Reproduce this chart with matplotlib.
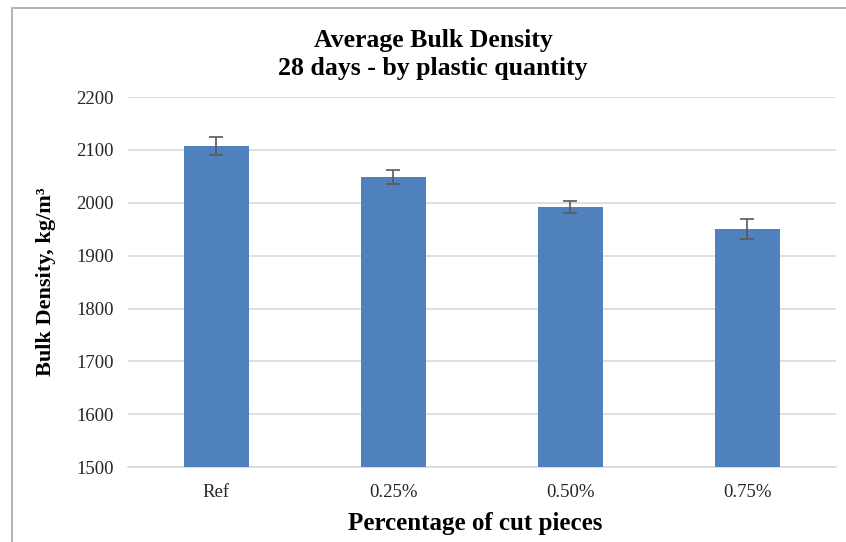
"""Average bulk density at 28 days by plastic quantity."""

import matplotlib.pyplot as plt
from matplotlib.patches import Rectangle

categories = ["Ref", "0.25%", "0.50%", "0.75%"]
density = [2107, 2049, 1992, 1951]
errors = [17, 13, 11, 19]

plt.rcParams["font.family"] = ["Liberation Serif", "DejaVu Serif"]

fig = plt.figure(figsize=(8.46, 5.42), dpi=100)
ax = fig.add_axes([0.151, 0.138, 0.837, 0.683])

# outer chart frame
fig.patches.append(Rectangle((12 / 846, -0.01), 1.0, 1 - 8 / 542 + 0.01,
                             transform=fig.transFigure, fill=False,
                             edgecolor="#a6a6a6", linewidth=1.2))

x = range(len(categories))
ax.bar(x, density, width=0.37, color="#4f81bd", zorder=3,
       yerr=errors, error_kw=dict(ecolor="#595959", elinewidth=1.2,
                                  capsize=5, capthick=1.2, zorder=4))

ax.set_xlim(-0.5, len(categories) - 0.5)
ax.set_ylim(1500, 2200)
ax.set_yticks(range(1500, 2201, 100))
ax.set_xticks(list(x))
ax.set_xticklabels(categories)
ax.grid(axis="y", color="#d9d9d9", linewidth=1.2, zorder=0)
for side in ("top", "right", "left"):
    ax.spines[side].set_visible(False)
ax.spines["bottom"].set_color("#d9d9d9")
ax.spines["bottom"].set_linewidth(1.2)
ax.tick_params(length=0, labelsize=13.5, colors="#262626")
ax.tick_params(axis="y", pad=10)
ax.tick_params(axis="x", pad=12)

fig.text(433 / 846, 1 - 47 / 542, "Average Bulk Density", ha="center",
         va="baseline", fontsize=18.5, fontweight="bold")
fig.text(433 / 846, 1 - 75 / 542, "28 days - by plastic quantity",
         ha="center", va="baseline", fontsize=18.5, fontweight="bold")
ax.set_ylabel("Bulk Density, kg/m³", fontsize=16, fontweight="bold",
              labelpad=15)
fig.text(475 / 846, 1 - 530 / 542, "Percentage of cut pieces", ha="center",
         va="baseline", fontsize=18, fontweight="bold")

fig.savefig("out.png", dpi=100)
